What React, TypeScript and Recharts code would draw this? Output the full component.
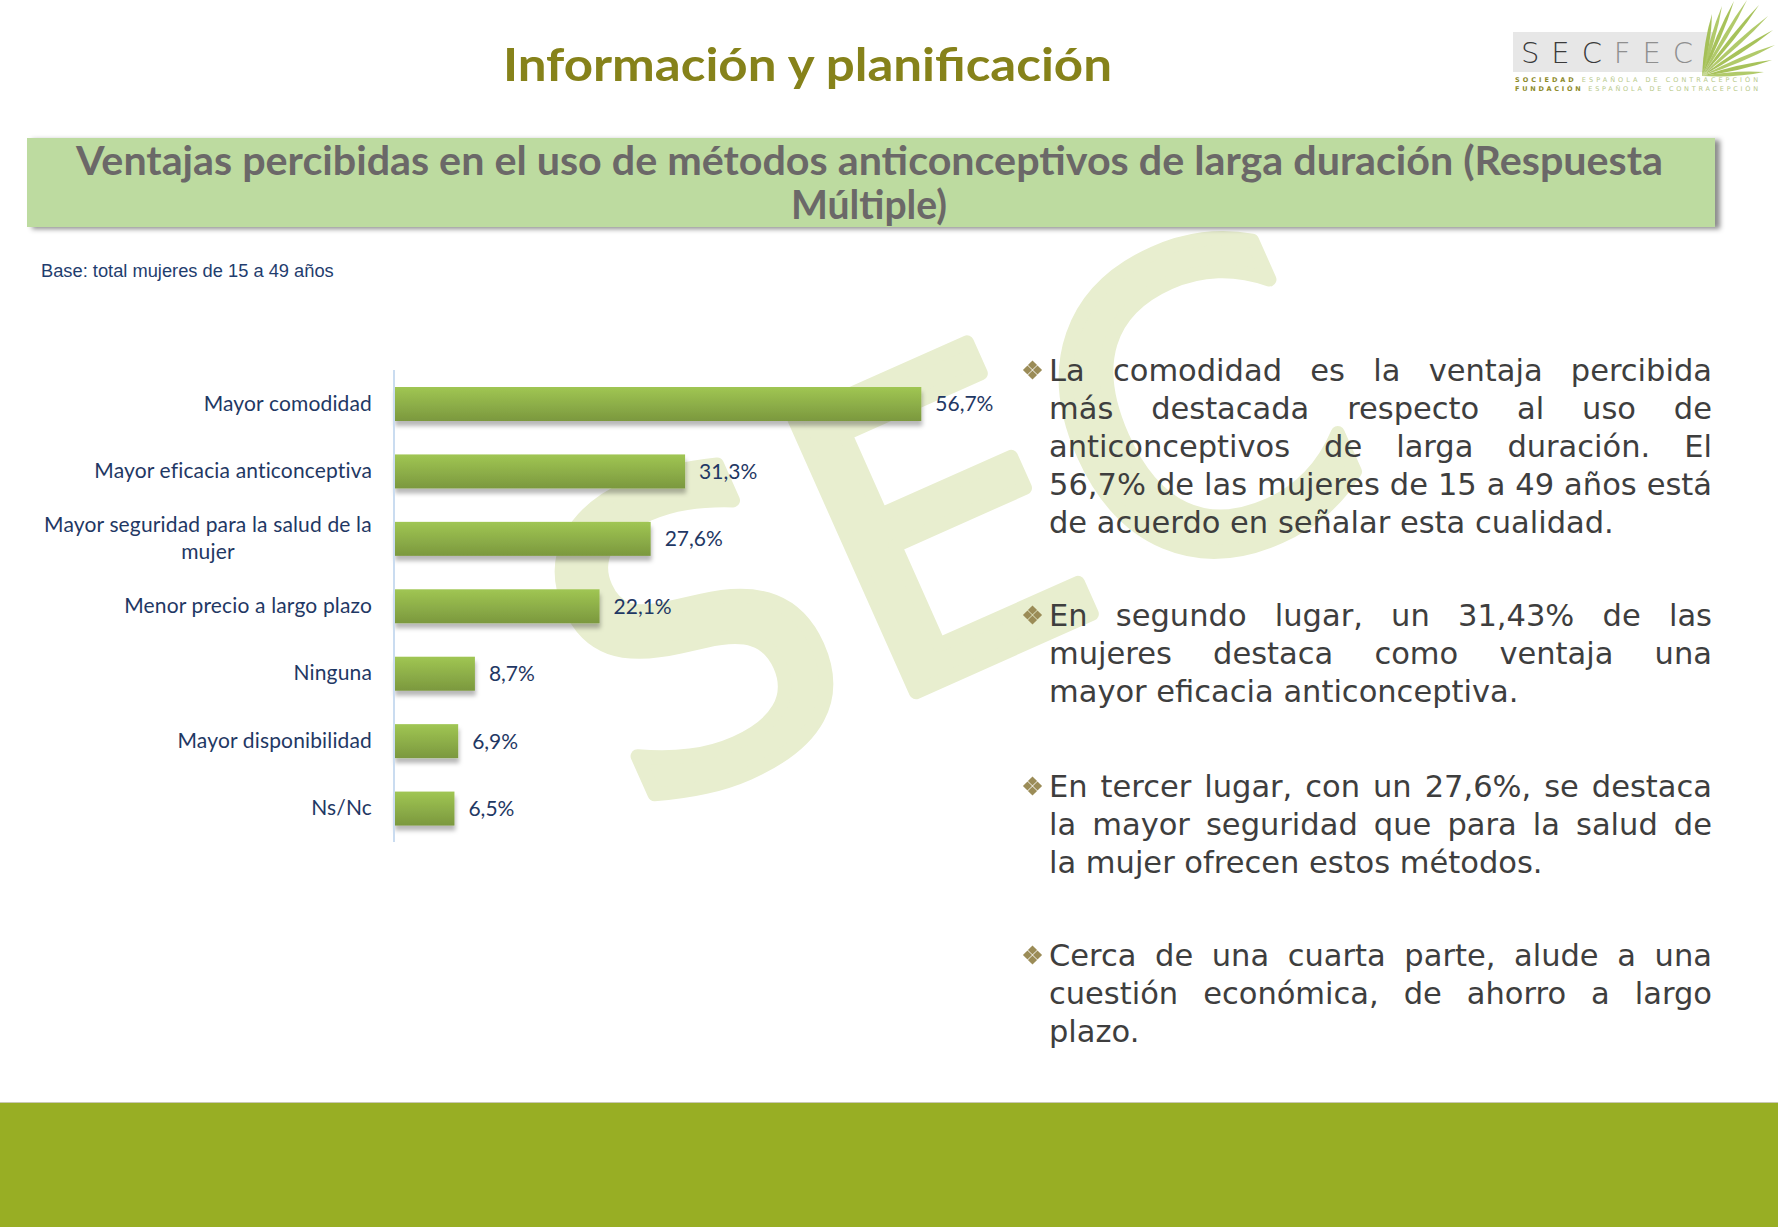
import React from 'react';
import { BarChart, Bar, XAxis, YAxis, LabelList } from 'recharts';

// ---------- data ----------
const categories = [
  'Mayor comodidad',
  'Mayor eficacia anticonceptiva',
  'Mayor seguridad para la salud de la mujer',
  'Menor precio a largo plazo',
  'Ninguna',
  'Mayor disponibilidad',
  'Ns/Nc',
];
const values = [56.7, 31.3, 27.6, 22.1, 8.7, 6.9, 6.5];
const xDomain = [0, 60];

const pageTitle = 'Información y planificación';
const bannerLines = [
  'Ventajas percibidas en el uso de métodos anticonceptivos de larga duración (Respuesta',
  'Múltiple)',
];
const baseNote = 'Base: total mujeres de 15 a 49 años';

const paragraphs = [
  [
    'La comodidad es la ventaja percibida',
    'más destacada respecto al uso de',
    'anticonceptivos de larga duración. El',
    '56,7% de las mujeres de 15 a 49 años está',
    'de acuerdo en señalar esta cualidad.',
  ],
  [
    'En segundo lugar, un 31,43% de las',
    'mujeres destaca como ventaja una',
    'mayor eficacia anticonceptiva.',
  ],
  [
    'En tercer lugar, con un 27,6%, se destaca',
    'la mayor seguridad que para la salud de',
    'la mujer ofrecen estos métodos.',
  ],
  [
    'Cerca de una cuarta parte, alude a una',
    'cuestión económica, de ahorro a largo',
    'plazo.',
  ],
];
const paragraphTops = [352, 597, 768, 937];

const data = categories.map((name, i) => ({ name, value: values[i] }));

// ---------- helpers ----------
const LABEL_FONT_SIZE = 21;
const LABEL_LS = 0.15;
const NAVY = '#1f3864';
let measureCtx: CanvasRenderingContext2D | null = null;
function measure(t: string): number {
  if (!measureCtx) measureCtx = document.createElement('canvas').getContext('2d');
  if (!measureCtx) return t.length * 10;
  measureCtx.font = `${LABEL_FONT_SIZE}px Lato`;
  return measureCtx.measureText(t).width + t.length * LABEL_LS;
}
function wrap(text: string, max: number): string[] {
  const words = text.split(' ');
  const lines: string[] = [];
  let cur = '';
  for (const w of words) {
    const test = cur ? cur + ' ' + w : w;
    if (cur && measure(test) > max) {
      lines.push(cur);
      cur = w;
    } else cur = test;
  }
  if (cur) lines.push(cur);
  return lines;
}

const CategoryTick = (props: any) => {
  const { x, y, payload } = props;
  const lines = wrap(String(payload.value), 345);
  const common = {
    fill: NAVY,
    fontSize: LABEL_FONT_SIZE,
    fontFamily: 'Lato',
    letterSpacing: LABEL_LS,
  };
  if (lines.length === 1) {
    return (
      <text x={x} y={y} dy={7} textAnchor="end" {...common}>
        {lines[0]}
      </text>
    );
  }
  const w = Math.max(...lines.map(measure));
  const cx = x - w / 2;
  const lh = 27;
  return (
    <text textAnchor="middle" {...common}>
      {lines.map((l, i) => (
        <tspan key={i} x={cx} y={y + (i - (lines.length - 1) / 2) * lh + 7}>
          {l}
        </tspan>
      ))}
    </text>
  );
};

const BarShape = (props: any) => {
  const { x, y, width, height } = props;
  return (
    <rect
      x={x}
      y={y}
      width={width}
      height={height}
      fill="url(#barGrad)"
      filter="url(#barShadow)"
    />
  );
};

const fmt = (v: any) => `${Number(v).toFixed(1).replace('.', ',')}%`;

const Bullet = ({ cx, cy }: { cx: number; cy: number }) => {
  const s = 4.6;
  const d = 5;
  const pts = [
    [0, -d],
    [-d, 0],
    [d, 0],
    [0, d],
  ];
  return (
    <g fill="#9b8c57">
      {pts.map(([dx, dy], i) => (
        <polygon
          key={i}
          points={`${cx + dx},${cy + dy - s} ${cx + dx + s},${cy + dy} ${cx + dx},${cy + dy + s} ${cx + dx - s},${cy + dy}`}
        />
      ))}
    </g>
  );
};

const palmTips = [
  [1712, 14],
  [1722, 6],
  [1734, 1],
  [1747, 0],
  [1759, 5],
  [1768, 16],
  [1773, 30],
  [1775, 45],
  [1772, 60],
  [1764, 72],
];

export default function App() {
  const textFont = '"DejaVu Sans", sans-serif';
  return (
    <div
      style={{
        position: 'absolute',
        left: 0,
        top: 0,
        width: 1778,
        height: 1227,
        background: '#ffffff',
        overflow: 'hidden',
      }}
    >
      {/* background svg: watermark, title, logo */}
      <svg
        width={1778}
        height={1227}
        style={{ position: 'absolute', left: 0, top: 0 }}
      >
        <g transform="translate(952,512) rotate(-24)">
          <text
            x={0}
            y={150}
            textAnchor="middle"
            fontFamily="DejaVu Sans"
            fontSize={410}
            letterSpacing={8}
            fill="#e8eecf"
            stroke="#e8eecf"
            strokeWidth={14}
            strokeLinejoin="round"
          >
            SEC
          </text>
        </g>
        <text
          x={503}
          y={81}
          fontFamily="Lato"
          fontWeight="bold"
          fontSize={46}
          fill="#86821a"
          textLength={609}
          lengthAdjust="spacingAndGlyphs"
        >
          {pageTitle}
        </text>
        {/* logo */}
        <rect x={1513} y={32} width={200} height={40} fill="#e7e7e7" />
        <text
          x={1521}
          y={63}
          fontFamily="DejaVu Sans"
          fontWeight={200}
          fontSize={29}
          textLength={172}
          lengthAdjust="spacing"
        >
          <tspan fill="#3a3a3a">SEC</tspan>
          <tspan fill="#8f8f8f">FEC</tspan>
        </text>
        <g>
          {palmTips.map(([tx, ty], i) => {
            const ox = 1702;
            const oy = 76;
            const dx = tx - ox;
            const dy = ty - oy;
            const len = Math.hypot(dx, dy);
            const nx = (-dy / len) * 4;
            const ny = (dx / len) * 4;
            const mx = ox + dx * 0.55;
            const my = oy + dy * 0.55;
            return (
              <path
                key={i}
                d={`M${ox},${oy} Q${mx + nx},${my + ny} ${tx},${ty} Q${mx - nx},${my - ny} ${ox},${oy} Z`}
                fill={i % 2 ? '#a9c45a' : '#9dbb48'}
                opacity={0.9}
              />
            );
          })}
        </g>
        <text
          x={1515}
          y={82}
          fontFamily="DejaVu Sans"
          fontSize={6.5}
          textLength={243}
          lengthAdjust="spacing"
        >
          <tspan fill="#8d8a2a" fontWeight="bold">SOCIEDAD</tspan>
          <tspan fill="#b8c98a"> ESPAÑOLA DE CONTRACEPCIÓN</tspan>
        </text>
        <text
          x={1515}
          y={91}
          fontFamily="DejaVu Sans"
          fontSize={6.5}
          textLength={243}
          lengthAdjust="spacing"
        >
          <tspan fill="#8d8a2a" fontWeight="bold">FUNDACIÓN</tspan>
          <tspan fill="#b8c98a"> ESPAÑOLA DE CONTRACEPCIÓN</tspan>
        </text>
      </svg>

      {/* banner */}
      <div
        style={{
          position: 'absolute',
          left: 27,
          top: 138,
          width: 1688,
          height: 89,
          background: '#bddba0',
          boxShadow: '5px 2px 5px rgba(0,0,0,0.45)',
        }}
      />
      <svg
        width={1778}
        height={260}
        style={{ position: 'absolute', left: 0, top: 0 }}
      >
        <text
          x={76}
          y={175}
          fontFamily="Lato"
          fontWeight="bold"
          fontSize={40}
          fill="#6b6868"
          textLength={1587}
          lengthAdjust="spacingAndGlyphs"
        >
          {bannerLines[0]}
        </text>
        <text
          x={791}
          y={219}
          fontFamily="Lato"
          fontWeight="bold"
          fontSize={40}
          fill="#6b6868"
          textLength={156}
          lengthAdjust="spacingAndGlyphs"
        >
          {bannerLines[1]}
        </text>
      </svg>

      {/* base note */}
      <div
        style={{
          position: 'absolute',
          left: 41,
          top: 260,
          fontFamily: '"Liberation Sans", Arial, sans-serif',
          fontSize: 18.3,
          color: '#1f3d6e',
          whiteSpace: 'nowrap',
        }}
      >
        {baseNote}
      </div>

      {/* chart */}
      <div style={{ position: 'absolute', left: 0, top: 340 }}>
        <BarChart
          width={1010}
          height={540}
          data={data}
          layout="vertical"
          margin={{ top: 30, right: 58, bottom: 38, left: 0 }}
        >
          <defs>
            <linearGradient id="barGrad" x1="0" y1="0" x2="0" y2="1">
              <stop offset="0" stopColor="#a0c653" />
              <stop offset="1" stopColor="#7b983e" />
            </linearGradient>
            <filter id="barShadow" x="-5%" y="-20%" width="115%" height="170%">
              <feDropShadow
                dx="1"
                dy="5"
                stdDeviation="2.2"
                floodColor="#000"
                floodOpacity="0.28"
              />
            </filter>
          </defs>
          <XAxis type="number" domain={xDomain} hide />
          <YAxis
            type="category"
            dataKey="name"
            width={394}
            axisLine={{ stroke: '#cadcf0', strokeWidth: 2 }}
            tickLine={false}
            tickSize={0}
            tickMargin={22}
            interval={0}
            tick={<CategoryTick />}
          />
          <Bar
            dataKey="value"
            barSize={34}
            isAnimationActive={false}
            shape={<BarShape />}
          >
            <LabelList
              dataKey="value"
              position="right"
              offset={14}
              formatter={fmt}
              fill={NAVY}
              fontSize={21}
              fontFamily="Lato"
            />
          </Bar>
        </BarChart>
      </div>

      {/* right-hand text */}
      {paragraphs.map((lines, pi) => (
        <div
          key={pi}
          style={{
            position: 'absolute',
            left: 1049,
            top: paragraphTops[pi],
            width: 663,
            fontFamily: textFont,
            fontSize: 30.5,
            lineHeight: '38px',
            color: '#3e3e3e',
          }}
        >
          {lines.map((line, li) =>
            li < lines.length - 1 ? (
              <div
                key={li}
                style={{
                  display: 'flex',
                  justifyContent: 'space-between',
                  whiteSpace: 'nowrap',
                  height: 38,
                }}
              >
                {line.split(' ').map((w, wi) => (
                  <span key={wi}>{w}</span>
                ))}
              </div>
            ) : (
              <div key={li} style={{ whiteSpace: 'nowrap', height: 38 }}>
                {line}
              </div>
            )
          )}
        </div>
      ))}
      <svg
        width={60}
        height={1227}
        style={{ position: 'absolute', left: 1000, top: 0 }}
      >
        {paragraphTops.map((t, i) => (
          <Bullet key={i} cx={32.5} cy={t + 18} />
        ))}
      </svg>

      {/* bottom band */}
      <div
        style={{
          position: 'absolute',
          left: 0,
          top: 1102,
          width: 1778,
          height: 125,
          background: '#98ae24',
          borderTop: '1px solid #c9c9b4',
        }}
      />
    </div>
  );
}
